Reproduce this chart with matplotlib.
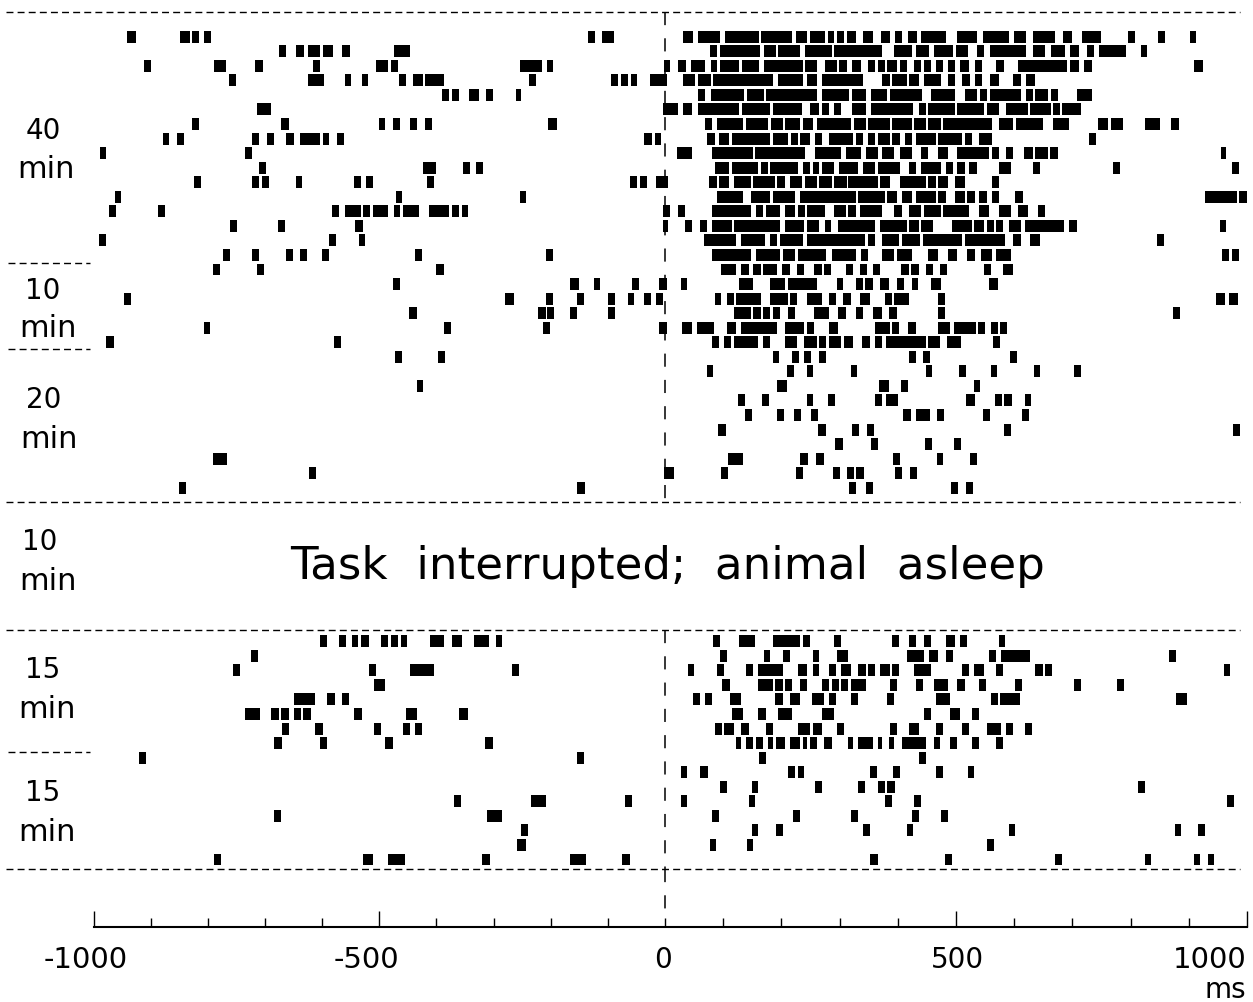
import numpy as np
import matplotlib.pyplot as plt
from matplotlib.ticker import FixedLocator, NullFormatter

W, H = 1253, 1003

# each trial: flat start,end pairs (ms) of the firing marks
upper_trials = [
    [-933,-917, -841,-824, -820,-808, -799,-787, -134,-122, -109,-89, 32,49, 58,95, 104,163, 167,221, 227,247, 251,277,
     282,293, 298,310, 315,332, 344,360, 374,390, 399,412, 421,437, 445,487, 507,542, 551,597, 605,626, 639,677,
     690,706, 723,757, 804,816, 855,867, 910,921],
    [-670,-657, -640,-627, -619,-598, -594,-576, -560,-547, -470,-442, 78,91, 95,164, 172,192, 196,235, 243,290, 293,377,
     398,428, 436,458, 466,499, 504,526, 542,554, 563,626, 638,660, 669,694, 703,719, 732,745, 753,800, 825,837],
    [-904,-892, -782,-761, -711,-698, -610,-598, -501,-480, -475,-463, -252,-214, -205,-194, -1,9, 23,36, 45,70, 79,91,
     95,129, 134,163, 171,239, 243,264, 278,298, 302,315, 324,340, 353,365, 369,382, 386,403, 407,420, 432,445, 449,462,
     470,483, 491,503, 512,528, 537,550, 575,588, 613,698, 703,719, 727,740, 917,934],
    [-757,-745, -619,-591, -555,-544, -526,-515, -462,-449, -437,-420, -416,-383, -236,-223, -94,-82, -76,-65, -59,-48,
     -26,4, 32,52, 58,79, 83,188, 196,239, 247,264, 273,344, 377,390, 394,420, 424,440, 449,479, 491,503, 516,529,
     537,550, 563,579, 604,618, 626,642],
    [-387,-374, -370,-357, -340,-323, -311,-299, -259,-249, 58,70, 79,137, 142,171, 175,264, 273,319, 324,348, 357,386,
     390,446, 462,503, 520,541, 546,559, 563,618, 626,638, 642,664, 669,681, 715,740],
    [-708,-683, -3,22, 32,47, 57,128, 133,183, 188,238, 251,268, 272,285, 293,306, 324,348, 357,431, 440,453, 457,503,
     507,554, 559,579, 592,630, 634,669, 673,685, 689,722],
    [-821,-809, -666,-653, -497,-485, -472,-460, -442,-430, -417,-404, -203,-187, 69,82, 90,136, 141,179, 184,204, 209,234,
     239,256, 264,323, 328,348, 353,390, 394,428, 432,453, 457,479, 483,567, 579,604, 609,655, 673,701, 752,768, 773,794,
     832,858, 878,891],
    [-871,-860, -846,-834, -716,-705, -691,-679, -657,-644, -633,-598, -594,-583, -569,-557, -36,-23, -18,-7, 73,86, 94,111,
     116,183, 188,213, 218,230, 235,251, 260,273, 285,327, 332,344, 353,365, 369,390, 394,407, 416,428, 436,470, 474,516,
     520,532, 545,567, 735,748],
    [-981,-969, -729,-717, 21,47, 82,153, 157,243, 260,306, 314,340, 348,369, 377,398, 407,428, 445,457, 474,491, 507,562,
     567,579, 592,604, 622,638, 642,664, 668,681, 964,974],
    [-704,-692, -420,-397, -350,-338, -328,-316, 86,111, 116,162, 166,179, 183,230, 239,251, 256,268, 272,293, 302,335,
     344,365, 369,407, 424,436, 445,479, 487,499, 507,520, 528,541, 579,600, 638,651, 778,790, 983,996],
    [-817,-805, -716,-705, -699,-687, -641,-629, -540,-527, -519,-506, -413,-401, -60,-49, -44,-32, -15,6, 77,90, 94,111,
     120,149, 153,191, 195,209, 217,238, 243,264, 268,289, 293,315, 318,369, 373,390, 407,453, 457,470, 474,491, 503,520,
     567,579],
    [-955,-943, -467,-456, -252,-241, 90,136, 149,183, 187,226, 234,331, 335,382, 386,402, 411,428, 436,470, 474,487,
     503,520, 524,537, 545,558, 567,579, 608,621, 937,992, 996,1009],
    [-964,-952, -879,-868, -577,-566, -556,-527, -524,-511, -506,-480, -471,-460, -455,-426, -409,-375, -370,-358, -353,-341,
     -3,9, 22,35, 82,149, 158,170, 175,200, 209,225, 231,243, 247,277, 293,314, 318,331, 339,377, 398,411, 424,445, 449,478,
     482,528, 545,562, 579,600, 612,629, 647,659],
    [-755,-743, -671,-659, -537,-524, -3,5, 35,47, 60,72, 82,116, 120,200, 209,242, 247,268, 277,288, 300,365, 373,419,
     424,440, 445,465, 498,532, 536,553, 558,570, 574,587, 596,617, 625,693, 701,714, 963,974],
    [-982,-969, -583,-570, -531,-520, 68,124, 132,174, 183,195, 199,239, 246,347, 352,365, 377,406, 411,443, 448,515,
     520,590, 604,617, 633,651, 854,866],
    [-766,-754, -716,-704, -657,-645, -633,-621, -595,-583, -434,-422, -207,-195, 82,149, 158,199, 204,225, 230,280, 289,331,
     340,352, 377,398, 402,428, 457,474, 491,507, 524,537, 549,567, 574,600, 967,979, 983,996],
    [-784,-772, -708,-696, -397,-384, 98,123, 132,145, 153,166, 170,195, 203,217, 229,242, 259,272, 276,288, 314,327,
     339,351, 360,373, 410,423, 427,440, 452,465, 477,490, 553,566, 587,603],
    [-472,-460, -165,-149, -123,-112, -57,-45, -11,4, 27,38, 128,153, 183,208, 213,263, 298,309, 331,343, 347,360, 373,389,
     403,415, 428,439, 461,478, 562,578],
    [-939,-927, -278,-262, -207,-195, -153,-141, -99,-87, -65,-54, -36,-24, -15,-4, 86,98, 107,120, 123,166, 183,213, 217,229,
     246,272, 284,297, 309,322, 339,355, 381,393, 398,423, 474,485, 956,971, 978,994],
    [-444,-431, -220,-207, -204,-192, -165,-153, -99,-87, 119,149, 153,166, 170,183, 187,199, 213,225, 259,284, 301,314,
     331,343, 360,377, 389,402, 474,485, 882,894],
    [-800,-789, -384,-372, -212,-200, -11,4, 30,47, 55,85, 107,124, 132,195, 208,242, 247,259, 284,301, 364,390, 394,406,
     422,436, 474,494, 502,540, 543,556, 566,578, 582,594],
    [-969,-956, -574,-562, 81,94, 102,115, 119,162, 170,183, 208,229, 242,263, 268,280, 284,306, 310,327, 342,355, 364,377,
     384,453, 456,477, 490,514, 569,581],
    [-469,-456, -393,-381, 187,198, 221,232, 242,254, 267,279, 423,435, 448,460, 599,611],
    [72,84, 212,224, 246,257, 322,333, 453,464, 510,522, 565,576, 641,650, 709,721],
    [-431,-419, 195,211, 372,388, 409,422, 536,547],
    [127,139, 169,181, 246,257, 283,295, 364,376, 384,405, 522,538, 573,584, 589,602, 624,635],
    [139,151, 194,206, 224,236, 254,266, 413,426, 435,459, 472,484, 551,564, 620,632],
    [92,105, 266,279, 325,337, 350,362, 589,601, 985,997],
    [295,308, 358,370, 451,464, 501,513],
    [-785,-760, 109,135, 235,248, 262,275, 396,408, 472,483, 530,542],
    [-618,-606, -2,16, 97,109, 227,240, 291,303, 316,328, 332,345, 399,412, 425,438],
    [-843,-831, -153,-139, 320,331, 349,361, 497,508, 522,534],
]

lower_trials = [
    [-598,-586, -565,-553, -543,-532, -528,-514, -493,-480, -475,-464, -458,-447, -407,-383, -370,-353, -332,-306, -294,-282,
     83,95, 128,157, 187,234, 239,251, 293,306, 394,406, 424,436, 449,461, 487,503, 512,524, 579,590],
    [-719,-706, 95,107, 171,183, 204,217, 256,268, 298,318, 420,449, 458,474, 487,499, 562,574, 583,633, 874,886],
    [-749,-737, -514,-501, -442,-400, -265,-254, 40,51, 90,103, 140,153, 162,204, 230,247, 256,268, 285,296, 306,323,
     335,348, 352,364, 373,390, 394,406, 432,461, 516,528, 536,553, 574,587, 642,656, 659,672, 969,981],
    [-505,-485, 99,112, 162,188, 191,204, 209,221, 234,247, 272,284, 289,302, 306,318, 323,348, 390,402, 436,448, 466,491,
     507,520, 545,557, 608,620, 710,722, 785,797],
    [-644,-607, -586,-573, -560,-548, 48,60, 69,82, 112,132, 191,204, 217,234, 255,276, 285,297, 323,335, 385,398, 470,494,
     566,578, 582,616, 887,906],
    [-728,-702, -683,-670, -666,-653, -644,-632, -628,-615, -539,-526, -450,-430, -358,-342, 116,136, 162,175, 196,221,
     272,293, 449,461, 495,511, 532,545],
    [-665,-653, -607,-594, -505,-493, -455,-443, -434,-421, 87,99, 103,120, 132,145, 175,187, 230,251, 256,272, 298,310,
     390,403, 424,440, 470,483, 516,528, 558,583, 591,603, 624,637],
    [-678,-665, -599,-586, -485,-472, -312,-299, 124,132, 140,153, 158,170, 179,187, 192,209, 217,234, 239,247, 251,264,
     276,289, 318,327, 335,361, 369,377, 389,398, 411,453, 466,477, 495,507, 532,545, 574,587],
    [-912,-900, -153,-140, 163,175, 441,453],
    [27,39, 61,74, 213,225, 231,242, 356,368, 395,407, 471,482, 525,536],
    [95,107, 151,162, 260,272, 335,347, 369,381, 386,399, 820,832],
    [-366,-354, -232,-207, -70,-57, 27,39, 145,157, 381,394, 432,445, 975,987],
    [-678,-666, -308,-283, 82,94, 222,234, 323,335, 429,440, 478,491],
    [-249,-237, 151,162, 192,204, 343,355, 420,431, 596,608, 884,896, 925,936],
    [-257,-241, 78,89, 142,153, 558,570],
    [-783,-770, -524,-506, -481,-451, -317,-304, -165,-137, -74,-61, 356,369, 486,498, 676,688, 832,844, 917,928, 942,953],
]

lower_first_row = 41.55
tick_labels = ["-1000", "-500", "0", "500", "1000"]
epoch_labels = ["40", "min", "10", "min", "20", "min", "10", "min", "15", "min", "15", "min"]

fig = plt.figure(figsize=(W / 100, H / 100), dpi=100)

PX_PER_MS = 0.5764


def row_of(y_px):
    return (y_px - 37.7) / 14.55


def ms_of(x_px):
    return (x_px - 665) / PX_PER_MS


def put(x_px, y_px, s, size=20):
    fig.text(x_px / W, 1 - y_px / H, s, fontsize=size, ha="center", va="center", color="black",
             family="DejaVu Sans")


# scale bar ends at 93.6 and 1247 px, zero sits at 665 px
ax = fig.add_axes([93.6 / W, (H - 928) / H, (1247 - 93.6) / W, 928 / H])
ax.set_xlim(ms_of(93.6), ms_of(1247))
ax.set_ylim(row_of(928), row_of(0))

for offset, trials in ((0, upper_trials), (lower_first_row, lower_trials)):
    for i, row in enumerate(trials):
        for start, end in zip(row[::2], row[1::2]):
            ax.barh(offset + i, end - start, left=start, height=0.82, color="black", linewidth=0)

dash_h = (0, (5, 3))
dash_v = (0, (8.6, 8.6))

# long separators across the page
for y_px in (13, 503, 631, 870):
    ax.plot([ms_of(6), ms_of(1240)], [row_of(y_px)] * 2, color="black", lw=1, ls=dash_h, clip_on=False)
# short ones between the epochs on the left
for y_px in (264, 350, 753):
    ax.plot([ms_of(8), ms_of(90)], [row_of(y_px)] * 2, color="black", lw=1, ls=dash_h, clip_on=False)

# stimulus onset
for y0, y1 in ((13, 503), (631, 870), (870, 915)):
    ax.plot([0, 0], [row_of(y0), row_of(y1)], color="black", lw=1.1, ls=dash_v)

for side in ("top", "left", "right"):
    ax.spines[side].set_visible(False)
ax.spines["bottom"].set_linewidth(1.5)
ax.set_yticks([])

# the printed scale is slightly stretched on either side of zero
left_ticks = np.arange(-1000, 0, 100) * -ms_of(93.6) / 1000
right_ticks = np.arange(100, 1100, 100) * ms_of(1247) / 1000
ax.set_xticks([left_ticks[0], left_ticks[5], right_ticks[4], right_ticks[9]])
ax.xaxis.set_minor_locator(FixedLocator(np.concatenate([left_ticks, [0], right_ticks])))
ax.xaxis.set_major_formatter(NullFormatter())
ax.tick_params(axis="x", which="major", direction="in", length=11.5, width=1)
ax.tick_params(axis="x", which="minor", direction="in", length=6.5, width=1)

for x_px, label, size in zip((86, 366, 663, 957, 1210), tick_labels, (21, 21, 20, 20, 21)):
    put(x_px, 960, label, size)
put(1225, 990, "ms", 20)

for (x_px, y_px), label in zip(
    ((43, 131), (46, 169), (43, 291), (48, 329), (44, 400), (49, 440),
     (40, 542), (48, 582), (43, 670), (47, 709), (43, 793), (47, 833)),
    epoch_labels,
):
    put(x_px, y_px, label, 22 if label == "min" else 20)

put(668, 567, "Task  interrupted;  animal  asleep", 32.5)

fig.savefig("out.png", dpi=100)
